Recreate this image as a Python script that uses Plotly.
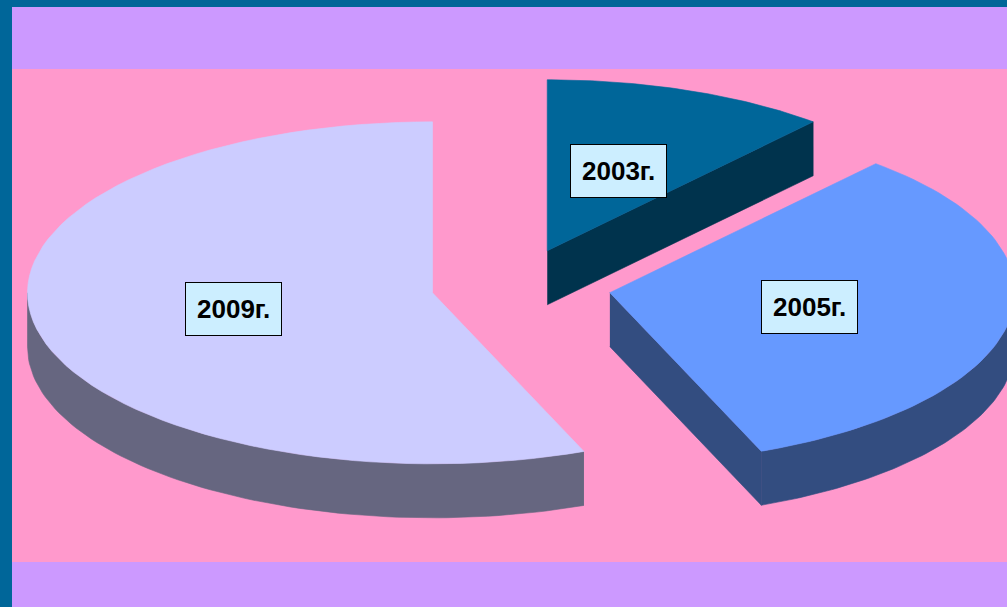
import numpy as np
import plotly.graph_objects as go

# ---- data ----
years = ["2003г.", "2005г.", "2009г."]
shares = [11.4, 32.5, 56.1]          # percent of the whole
pulls = [0.22, 0.235, 0.21]          # explosion of each slice (fraction of radius)
top_colors = ["#006699", "#6699FF", "#CCCCFF"]
side_colors = ["#00334D", "#334D80", "#666680"]

# ---- geometry / style ----
W, H = 1007, 607
CX, CY = 516, 286        # pie centre
RX, RY = 405, 171        # tilted-ellipse radii
DEPTH = 54               # thickness of the 3-D disc
N = 80


def pt(cx, cy, theta, r=1.0, dz=0.0):
    t = np.radians(theta)
    return cx + r * RX * np.sin(t), cy - r * RY * np.cos(t) + dz


fig = go.Figure()

total = sum(shares)
start = 0.0
label_pos = []
for name, val, pull, ctop, cside in zip(years, shares, pulls, top_colors, side_colors):
    a = start
    b = start + val / total * 360.0
    start = b
    mid = (a + b) / 2
    cx, cy = pt(CX, CY, mid, pull)

    polys = []
    # outer curved side (front half only)
    lo, hi = max(a, 90.0), min(b, 270.0)
    if lo < hi:
        th = np.linspace(lo, hi, N)
        xs_t, ys_t = pt(cx, cy, th)
        xs_b, ys_b = pt(cx, cy, th[::-1], dz=DEPTH)
        polys.append((np.r_[xs_t, xs_b], np.r_[ys_t, ys_b]))
    # radial cut faces that face the viewer
    for ang, vis in ((b, np.sin(np.radians(b)) > 1e-6), (a, np.sin(np.radians(a)) < -1e-6)):
        if vis:
            ox, oy = pt(cx, cy, ang)
            polys.append((np.array([cx, ox, ox, cx]),
                          np.array([cy, oy, oy + DEPTH, cy + DEPTH])))
    for xs, ys in polys:
        fig.add_trace(go.Scatter(x=xs, y=ys, mode="lines", fill="toself",
                                 fillcolor=cside, line=dict(width=0.6, color=cside),
                                 hoverinfo="skip", showlegend=False))
    # top face
    th = np.linspace(a, b, N)
    xs, ys = pt(cx, cy, th)
    fig.add_trace(go.Scatter(x=np.r_[cx, xs, cx], y=np.r_[cy, ys, cy], mode="lines",
                             fill="toself", fillcolor=ctop,
                             line=dict(width=0.6, color=ctop),
                             name=name, text=f"{name}: {val}%", hoverinfo="text",
                             showlegend=False))
    label_pos.append((name, *pt(cx, cy, mid, 0.5)))

for name, lx, ly in label_pos:
    fig.add_annotation(x=lx, y=ly, xref="x", yref="y", text=name, showarrow=False,
                       font=dict(family="Liberation Sans, Arial, sans-serif", size=26,
                                 color="black", weight="bold"),
                       bgcolor="#CCEEFF", bordercolor="black", borderwidth=1,
                       borderpad=11)

# background bands
fig.add_shape(type="rect", xref="x", yref="y", x0=12, x1=W, y0=7, y1=H,
              fillcolor="#CC99FF", line_width=0, layer="below")
fig.add_shape(type="rect", xref="x", yref="y", x0=12, x1=W, y0=69, y1=562,
              fillcolor="#FF99CC", line_width=0, layer="below")

fig.update_layout(
    width=W, height=H,
    margin=dict(l=0, r=0, t=0, b=0),
    paper_bgcolor="#006699", plot_bgcolor="#006699",
    xaxis=dict(range=[0, W], visible=False, fixedrange=True),
    yaxis=dict(range=[H, 0], visible=False, fixedrange=True),
    showlegend=False,
)

fig.write_html("out.html", config={"displayModeBar": False},
               post_script="document.body.style.margin='0';"
                           "document.body.style.overflow='hidden';")
